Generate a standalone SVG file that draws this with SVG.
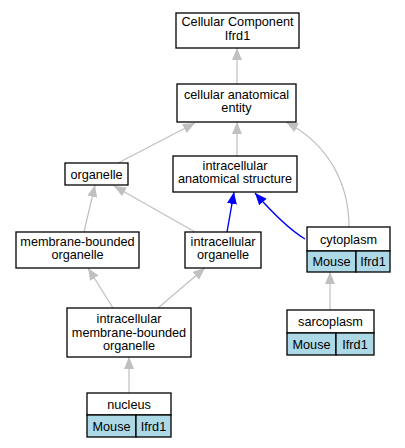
<svg xmlns="http://www.w3.org/2000/svg" width="405" height="448" viewBox="0 0 405 448">
<style>
.box{fill:#ffffff;stroke:#000000;stroke-width:1.3}
.cell{fill:#add8e6;stroke:#000000;stroke-width:1.3}
text{font-family:"Liberation Sans",Arial,sans-serif;font-size:12.7px;text-anchor:middle;fill:#000000}
.g{fill:none;stroke:#c0c0c0;stroke-width:1.2}
.b{fill:none;stroke:#0000ff;stroke-width:1.4}
</style>
<defs>
<marker id="ag" viewBox="0 0 12 10" refX="12" refY="5" markerWidth="12" markerHeight="10" markerUnits="userSpaceOnUse" orient="auto"><path d="M0,0 L12,5 L0,10 z" fill="#c0c0c0"/></marker>
<marker id="ab" viewBox="0 0 12 10" refX="12" refY="5" markerWidth="12" markerHeight="10" markerUnits="userSpaceOnUse" orient="auto"><path d="M0,0 L12,5 L0,10 z" fill="#0000ff"/></marker>
</defs>
<rect width="405" height="448" fill="#ffffff"/>
<g id="edges">
<path class="g" marker-end="url(#ag)" d="M237,84 L237,48"/>
<path class="g" marker-end="url(#ag)" d="M118,163 L195,123"/>
<path class="g" marker-end="url(#ag)" d="M237,156 L237,122"/>
<path class="g" marker-end="url(#ag)" d="M349,227 C349,185 330,145 286,122"/>
<path class="g" marker-end="url(#ag)" d="M84,232 L95,185"/>
<path class="g" marker-end="url(#ag)" d="M195,232 L114,186"/>
<path class="b" marker-end="url(#ab)" d="M227,232 L234,192"/>
<path class="b" marker-end="url(#ab)" d="M305,239 C290,230 270,210 255,193"/>
<path class="g" marker-end="url(#ag)" d="M113,308 L88,268"/>
<path class="g" marker-end="url(#ag)" d="M158,308 L205,268"/>
<path class="g" marker-end="url(#ag)" d="M129,393 L129,357"/>
<path class="g" marker-end="url(#ag)" d="M330,310 L330,272"/>
</g>
<g id="n_cc">
<rect class="box" x="176" y="13" width="123" height="35"/>
<text x="237.5" y="26">Cellular Component</text>
<text x="237.5" y="39.5">Ifrd1</text>
</g>
<g id="n_cae">
<rect class="box" x="177" y="84" width="119" height="38"/>
<text x="236.5" y="98.5">cellular anatomical</text>
<text x="236.5" y="112">entity</text>
</g>
<g id="n_organelle">
<rect class="box" x="65" y="163" width="63" height="22"/>
<text x="96.5" y="178.5">organelle</text>
</g>
<g id="n_ias">
<rect class="box" x="173" y="156" width="124" height="36"/>
<text x="235" y="169.5">intracellular</text>
<text x="235" y="183">anatomical structure</text>
</g>
<g id="n_mbo">
<rect class="box" x="16" y="232" width="123" height="36"/>
<text x="77.5" y="245.5">membrane-bounded</text>
<text x="77.5" y="259">organelle</text>
</g>
<g id="n_io">
<rect class="box" x="185" y="232" width="76" height="36"/>
<text x="223" y="245.5">intracellular</text>
<text x="223" y="259">organelle</text>
</g>
<g id="n_cyto">
<rect class="box" x="307" y="227" width="83" height="24"/>
<rect class="cell" x="307" y="251" width="49" height="21"/>
<rect class="cell" x="356" y="251" width="34" height="21"/>
<text x="348.5" y="243.5">cytoplasm</text>
<text x="331.5" y="266">Mouse</text>
<text x="373" y="266">Ifrd1</text>
</g>
<g id="n_imbo">
<rect class="box" x="67" y="308" width="124" height="49"/>
<text x="129" y="323">intracellular</text>
<text x="129" y="336.5">membrane-bounded</text>
<text x="129" y="350">organelle</text>
</g>
<g id="n_sarco">
<rect class="box" x="287" y="310" width="87" height="23"/>
<rect class="cell" x="287" y="333" width="49" height="22"/>
<rect class="cell" x="336" y="333" width="38" height="22"/>
<text x="330.5" y="326">sarcoplasm</text>
<text x="311.5" y="348.5">Mouse</text>
<text x="355" y="348.5">Ifrd1</text>
</g>
<g id="n_nucleus">
<rect class="box" x="87" y="393" width="84" height="22"/>
<rect class="cell" x="87" y="415" width="49" height="22"/>
<rect class="cell" x="136" y="415" width="35" height="22"/>
<text x="129" y="408.5">nucleus</text>
<text x="111.5" y="430.5">Mouse</text>
<text x="153.5" y="430.5">Ifrd1</text>
</g>
</svg>
